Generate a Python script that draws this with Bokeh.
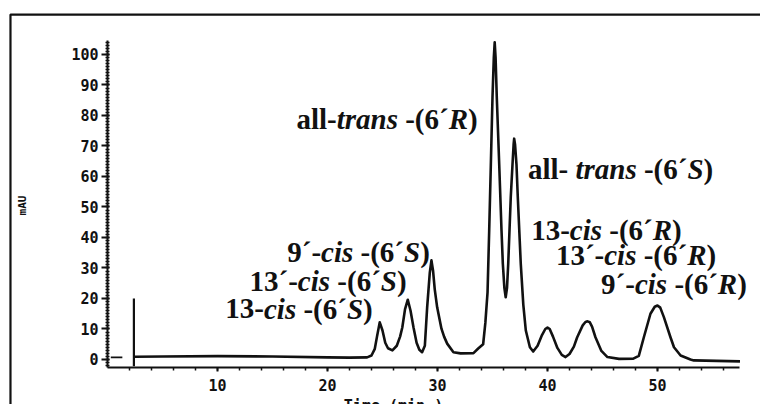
import math
from bokeh.plotting import figure
from bokeh.models import Range1d, FixedTicker, Label, LinearAxis
from bokeh.embed import file_html
from bokeh.resources import INLINE

# ---- data ----
time_min = [2.5, 5, 10, 15, 20, 22, 23.6, 24.0, 24.3, 24.5, 24.75, 25.0, 25.25, 25.5,
            25.9, 26.3, 26.6, 26.8, 27.05, 27.3, 27.55, 27.82, 28.1, 28.35, 28.6,
            28.85, 29.06, 29.3, 29.45, 29.6, 29.75, 29.97, 30.36, 30.6, 30.88, 31.45,
            32.1, 33.27, 33.7, 34.15, 34.35, 34.55, 34.7, 34.85, 35.0, 35.12, 35.2,
            35.28, 35.39, 35.61, 35.82, 35.94, 36.08, 36.2, 36.32, 36.43, 36.66,
            36.82, 36.92, 36.97, 37.05, 37.18, 37.3, 37.57, 37.8, 38.03, 38.4, 38.7,
            39.1, 39.5, 39.8, 40.0, 40.2, 40.5, 40.9, 41.3, 41.64, 42.0, 42.4, 42.7,
            43.2, 43.45, 43.64, 43.85, 44.05, 44.36, 44.9, 45.45, 46.5, 47.8, 48.3,
            48.76, 49.36, 49.75, 50.0, 50.25, 50.58, 51.18, 51.5, 52.1, 53.0, 53.3, 57.5]
mau = [0.9, 1.0, 1.1, 1.0, 0.7, 0.6, 0.7, 1.3, 3.5, 7.5, 12.2, 9.5, 5.5, 3.7,
       3.0, 4.5, 7.5, 10.5, 16.5, 19.6, 16.0, 10.5, 5.5, 3.2, 2.4,
       4.5, 17.1, 28.5, 32.5, 29.0, 23.0, 17.1, 10.1, 7.5, 5.2, 2.4,
       2.0, 2.1, 3.6, 5.0, 12.0, 22.0, 42.3, 64.0, 86.0, 99.0, 104.0,
       99.0, 86.0, 64.0, 42.3, 31.4, 23.5, 20.4, 23.5, 31.4, 53.2,
       64.0, 70.5, 72.4, 70.5, 64.0, 53.2, 31.4, 18.0, 9.5, 4.0, 2.6,
       4.5, 8.0, 10.0, 10.5, 10.0, 7.5, 3.8, 1.5, 0.8, 1.8, 4.2, 7.3,
       11.2, 12.3, 12.5, 12.2, 10.8, 7.3, 2.8, 0.8, 0.2, 0.3, 1.2,
       7.3, 15.0, 17.3, 17.7, 17.0, 13.9, 7.3, 4.0, 1.3, 0.0, -0.3, -0.6]
spike_time = [2.4, 2.4]
spike_mau = [-2.2, 20.0]
pre_time = [0.3, 1.35]
pre_mau = [0.7, 0.7]

y_ticks = list(range(0, 101, 10))
y_minor = list(range(-2, 105))
x_ticks = [10, 20, 30, 40, 50]
x_minor = list(range(2, 58, 2))

# peak labels: runs of (text, italic), centre time, baseline mAU
peak_labels = [
    ([("all-", False), ("trans", True), (" -(6´", False), ("R", True), (")", False)], 25.41, 78.7),
    ([("all- ", False), ("trans", True), (" -(6´", False), ("S", True), (")", False)], 46.64, 62.3),
    ([("13-", False), ("cis", True), (" -(6´", False), ("R", True), (")", False)], 45.36, 42.3),
    ([("13´-", False), ("cis", True), (" -(6´", False), ("R", True), (")", False)], 48.05, 34.1),
    ([("9´-", False), ("cis", True), (" -(6´", False), ("R", True), (")", False)], 51.5, 24.9),
    ([("9´-", False), ("cis", True), (" -(6´", False), ("S", True), (")", False)], 22.82, 35.1),
    ([("13´-", False), ("cis", True), (" -(6´", False), ("S", True), (")", False)], 20.05, 25.6),
    ([("13-", False), ("cis", True), (" -(6´", False), ("S", True), (")", False)], 17.41, 16.7),
]

# ---- styling ----
INK = "#111111"
FS = 29
W_UP = {'1': 500, '3': 500, '9': 500, '6': 500, '-': 333, ' ': 250, '(': 333, ')': 333,
        '´': 333, 'a': 500, 'l': 278}
W_IT = {'c': 444, 'i': 278, 's': 389, 't': 278, 'r': 389, 'a': 500, 'n': 556, 'S': 556, 'R': 667}

def run_width(s, italic):
    table = W_IT if italic else W_UP
    return sum(table.get(ch, 500) for ch in s) * FS / 1000.0

# frame covers the whole canvas; axes are pinned at data locations
p = figure(width=760, height=404, output_backend="svg", toolbar_location=None,
           x_range=Range1d(-9.727, 59.364), y_range=Range1d(-14.754, 117.70),
           x_axis_type=None, y_axis_type=None,
           min_border_left=0, min_border_right=0, min_border_top=0, min_border_bottom=0)
p.outline_line_color = None
p.background_fill_color = "white"
p.border_fill_color = "white"

xaxis = LinearAxis(fixed_location=-2.6, bounds=(0, 57.5),
                   ticker=FixedTicker(ticks=x_ticks, minor_ticks=x_minor))
yaxis = LinearAxis(fixed_location=0, bounds=(-2.6, 104.6),
                   ticker=FixedTicker(ticks=y_ticks, minor_ticks=y_minor))
p.add_layout(xaxis, "below")
p.add_layout(yaxis, "left")

for ax in (xaxis, yaxis):
    ax.axis_line_color = INK
    ax.axis_line_width = 2
    ax.major_tick_line_color = INK
    ax.major_tick_line_width = 2
    ax.minor_tick_line_color = INK
    ax.minor_tick_line_width = 1.5
    ax.major_label_text_font = "DejaVu Sans Mono"
    ax.major_label_text_font_style = "bold"
    ax.major_label_text_font_size = "15px"
    ax.major_label_text_color = INK

xaxis.major_tick_out = 4
xaxis.major_tick_in = 0
xaxis.minor_tick_out = 3
xaxis.minor_tick_in = 0
xaxis.major_label_standoff = 8

yaxis.major_tick_out = 6
yaxis.major_tick_in = 2
yaxis.minor_tick_out = 2
yaxis.minor_tick_in = 2
yaxis.major_label_standoff = 3

p.line(time_min, mau, line_color=INK, line_width=2.6, line_join="round")
p.line(spike_time, spike_mau, line_color=INK, line_width=2.2)
p.line(pre_time, pre_mau, line_color=INK, line_width=1.8)

# axis titles
p.add_layout(Label(x=-7.73, y=50.5, text="mAU", angle=math.pi / 2,
                   text_font="DejaVu Sans Mono", text_font_style="bold",
                   text_font_size="11px", text_align="center", text_baseline="middle",
                   text_color=INK))
p.add_layout(Label(x=26.0, y=-15.2, text="Time (min.)",
                   text_font="DejaVu Sans Mono", text_font_style="bold",
                   text_font_size="15px", text_align="center", text_baseline="alphabetic",
                   text_color=INK))

# page frame (top and left)
p.line([-8.82, -8.82, 59.364], [-14.754, 113.1, 113.1], line_color=INK, line_width=2.2)

# peak labels
space_w = W_UP[' '] * FS / 1000.0
for runs, xc, yb in peak_labels:
    total = sum(run_width(s, it) for s, it in runs)
    off = -total / 2.0
    for s, it in runs:
        lead = len(s) - len(s.lstrip(' '))
        core = s.strip(' ')
        pos = off + lead * space_w
        p.add_layout(Label(x=xc, y=yb, x_offset=pos, text=core,
                           text_font="Liberation Serif",
                           text_font_style="bold italic" if it else "bold",
                           text_font_size=f"{FS}px", text_align="left",
                           text_baseline="alphabetic", text_color=INK))
        off += run_width(s, it)

open("out.html", "w").write(file_html(p, INLINE))
